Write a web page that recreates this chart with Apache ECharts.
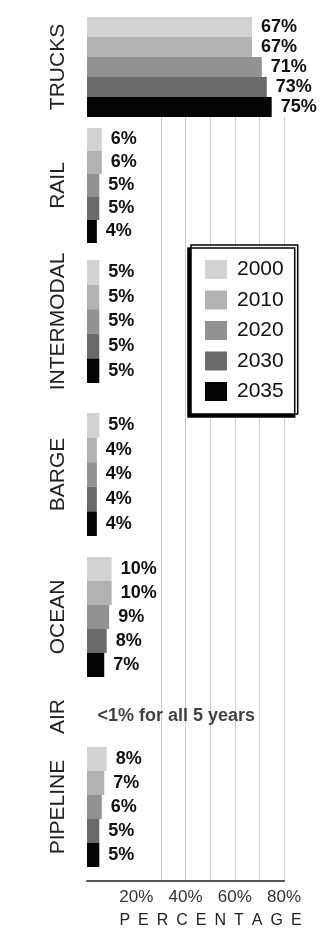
<!DOCTYPE html>
<html>
<head>
<meta charset="utf-8">
<script src="https://cdn.jsdelivr.net/npm/echarts@6/dist/echarts.min.js"></script>
<style>
html,body{margin:0;padding:0;background:#fff;}
#chart{width:328px;height:933px;}
</style>
</head>
<body>
<div id="chart"></div>
<script>
// ---- data ----
var categories = ['TRUCKS', 'RAIL', 'INTERMODAL', 'BARGE', 'OCEAN', 'AIR', 'PIPELINE'];
var years = ['2000', '2010', '2020', '2030', '2035'];
var v2000 = [67, 6, 5, 5, 10, null, 8];
var v2010 = [67, 6, 5, 4, 10, null, 7];
var v2020 = [71, 5, 5, 4, 9, null, 6];
var v2030 = [73, 5, 5, 4, 8, null, 5];
var v2035 = [75, 4, 5, 4, 7, null, 5];
var airNote = '<1% for all 5 years';
var xTicks = [20, 40, 60, 80];
var xTitle = 'PERCENTAGE';

// ---- styling / layout ----
var values = [v2000, v2010, v2020, v2030, v2035];
var colors = ['#d2d2d2', '#b2b2b2', '#929292', '#6a6a6a', '#050505'];
var regular = '"Liberation Sans", Arial, sans-serif';
var LEFT = 87, WIDTH = 197;
var bands = [
  {top: 17, height: 100},
  {top: 128, height: 115},
  {top: 260, height: 123},
  {top: 413, height: 123},
  {top: 557, height: 120},
  {top: 700, height: 33},
  {top: 747, height: 120}
];

var grids = [{left: LEFT, width: WIDTH, top: 117, height: 764, outerBoundsMode: 'none', containLabel: false}];
var xAxes = [{
  gridIndex: 0, type: 'value', min: 0, max: 80, interval: 10,
  axisLine: {show: true, lineStyle: {color: '#555', width: 2}},
  axisTick: {show: false},
  axisLabel: {
    margin: 8, color: '#333', fontSize: 17, fontFamily: regular,
    formatter: function (v) { return xTicks.indexOf(v) >= 0 ? v + '%' : ''; }
  },
  splitLine: {show: true, lineStyle: {width: 1, color: ['rgba(0,0,0,0)', 'rgba(0,0,0,0)', 'rgba(0,0,0,0)', '#cfcfcf', '#cfcfcf', '#cfcfcf', '#cfcfcf', '#cfcfcf', '#cfcfcf']}},
  name: xTitle.split('').join('\u2002'),
  nameLocation: 'middle', nameGap: 32,
  nameTextStyle: {fontSize: 16, color: '#222', fontFamily: regular, padding: [0, 0, 0, 50]}
}];
var yAxes = [{gridIndex: 0, type: 'category', data: [''], show: false}];
var series = [];

categories.forEach(function (cat, g) {
  var gi = g + 1;
  grids.push({left: LEFT, width: WIDTH, top: bands[g].top, height: bands[g].height, outerBoundsMode: 'none', containLabel: false});
  xAxes.push({gridIndex: gi, type: 'value', min: 0, max: 80, show: false});
  yAxes.push({
    gridIndex: gi, type: 'category', data: [cat], inverse: true,
    axisLine: {show: false}, axisTick: {show: false}, axisLabel: {show: false},
    splitLine: {show: false},
    name: cat, nameLocation: 'middle', nameRotate: 90, nameGap: 18,
    nameTextStyle: {fontSize: 21, color: '#222', fontFamily: regular}
  });
  var hasBars = false;
  years.forEach(function (yr, k) {
    var val = values[k][g];
    if (val === null) return;
    hasBars = true;
    series.push({
      type: 'bar', name: yr, xAxisIndex: gi, yAxisIndex: gi,
      data: [val], barGap: '0%', barCategoryGap: '0%',
      itemStyle: {color: colors[k]},
      label: {
        show: true, position: 'right', distance: 9, formatter: '{c}%',
        color: '#111', fontSize: 18, fontWeight: 'bold', fontFamily: regular
      }
    });
  });
  if (!hasBars) {
    series.push({
      type: 'scatter', name: cat + ' note', xAxisIndex: gi, yAxisIndex: gi,
      data: [[0, 0]], symbolSize: 1, itemStyle: {color: 'rgba(0,0,0,0)'},
      label: {
        show: true, position: 'right', distance: 10, formatter: airNote,
        color: '#111', fontSize: 18, fontWeight: 'bold', fontFamily: regular
      }
    });
  }
});

var chart = echarts.init(document.getElementById('chart'), null, {renderer: 'canvas'});
chart.setOption({
  animation: false,
  backgroundColor: '#fff',
  grid: grids,
  xAxis: xAxes,
  yAxis: yAxes,
  legend: {
    data: years, orient: 'vertical', left: 191, top: 245,
    icon: 'rect', itemWidth: 22, itemHeight: 19, itemGap: 9.5,
    padding: [14, 14, 12, 14],
    textStyle: {fontSize: 21, color: '#111', fontFamily: regular, padding: [0, 0, 0, 5]},
    backgroundColor: '#fff', borderColor: '#000', borderWidth: 1.5,
    shadowColor: '#000', shadowBlur: 0, shadowOffsetX: -3, shadowOffsetY: 3
  },
  series: series
});
</script>
</body>
</html>
